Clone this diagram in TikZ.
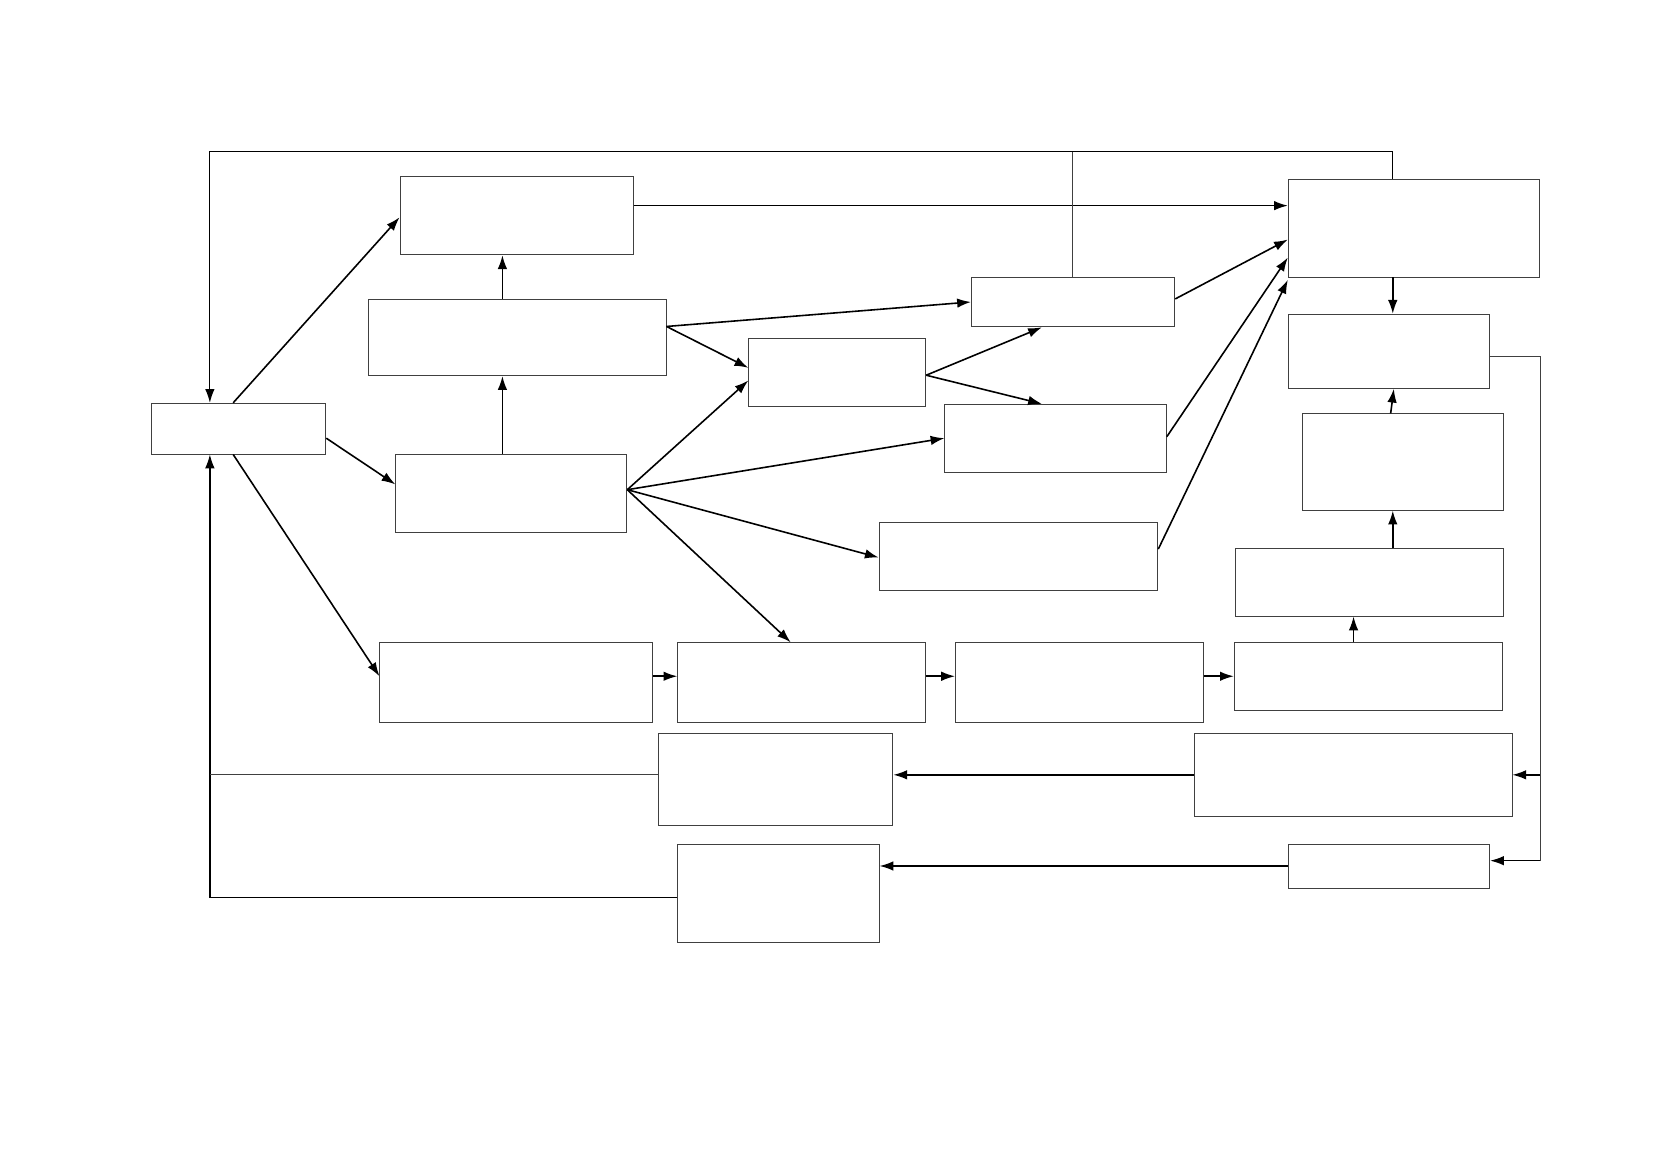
\documentclass[tikz,border=0pt]{standalone}
\usetikzlibrary{calc}
\usetikzlibrary{arrows.meta}

\tikzset{
  box/.style={draw=black!75, line width=0.8pt, inner sep=0pt, anchor=north west},
  link/.style={line width=1.5pt, -{Latex[length=13pt,width=9pt]}},
  frame/.style={draw=black!75, line width=0.9pt},
}

\begin{document}
\begin{tikzpicture}[x=1pt, y=-1pt]
\useasboundingbox (0,0) rectangle (1568,1108.5);

% boxes
\node[box, minimum width=165, minimum height=48] (A) at (142,380) {};
\node[box, minimum width=220, minimum height=74] (B) at (377,166) {};
\node[box, minimum width=281, minimum height=72] (C) at (347,282) {};
\node[box, minimum width=218, minimum height=74] (D) at (373,428) {};
\node[box, minimum width=167, minimum height=64] (E) at (706,319) {};
\node[box, minimum width=192, minimum height=47] (F) at (916,261) {};
\node[box, minimum width=209, minimum height=64] (G) at (891,381) {};
\node[box, minimum width=263, minimum height=65] (H) at (829,492) {};
\node[box, minimum width=237, minimum height=92] (R1) at (1215,169) {};
\node[box, minimum width=190, minimum height=70] (R2) at (1215,296) {};
\node[box, minimum width=190, minimum height=91] (R3) at (1228,390) {};
\node[box, minimum width=253, minimum height=64] (R4) at (1165,517) {};
\node[box, minimum width=257, minimum height=75] (P1) at (358,606) {};
\node[box, minimum width=234, minimum height=75] (P2) at (639,606) {};
\node[box, minimum width=234, minimum height=75] (P3) at (901,606) {};
\node[box, minimum width=253, minimum height=64] (P4) at (1164,606) {};
\node[box, minimum width=221, minimum height=86] (Q1) at (621,692) {};
\node[box, minimum width=300, minimum height=78] (Q2) at (1126,692) {};
\node[box, minimum width=190, minimum height=93] (S1) at (639,796) {};
\node[box, minimum width=190, minimum height=42] (S2) at (1215,796) {};

\coordinate (topbend) at (198,143);
\coordinate (botbend) at (198,847);
\coordinate (rtop) at (1453,336);
\coordinate (rbot) at (1453,812);

% from the left box
\draw[link] ([xshift=78]A.north west) -- ([yshift=-39]B.north west);
\draw[link] ([yshift=-9]A.east) -- ([yshift=-29]D.north west);
\draw[link] ([xshift=78]A.south west) -- ([yshift=-32]P1.north west);
\draw[link] ([xshift=101]D.north west) -- ([xshift=127]C.south west);
\draw[link] ([xshift=127]C.north west) -- ([xshift=97]B.south west);
\draw[link] ([yshift=-28]B.north east) -- ([yshift=-25]R1.north west);

% middle fan
\draw[link] ([yshift=-26]C.north east) -- (F.west);
\draw[link] ([yshift=-26]C.north east) -- ([yshift=-28]E.north west);
\draw[link] ([yshift=-34]D.north east) -- ([yshift=-40]E.north west);
\draw[link] ([yshift=-34]D.north east) -- (G.west);
\draw[link] ([yshift=-34]D.north east) -- ([yshift=-34]H.north west);
\draw[link] ([yshift=-34]D.north east) -- ([xshift=107]P2.north west);
\draw[link] ([yshift=-35]E.north east) -- ([xshift=67]F.south west);
\draw[link] ([yshift=-35]E.north east) -- ([xshift=92]G.north west);
\draw[link] ([yshift=-21]F.north east) -- ([yshift=-57]R1.north west);
\draw[link] ([yshift=-31]G.north east) -- ([yshift=-74]R1.north west);
\draw[link] ([yshift=-26]H.north east) -- ([yshift=-95]R1.north west);

% right column
\draw[link] ([xshift=99]R1.south west) -- ([xshift=99]R2.north west);
\draw[link] ([xshift=84]R3.north west) -- ([xshift=100]R2.south west);
\draw[link] ([xshift=86]R3.south west |- R4.north) -- ([xshift=86]R3.south west);
\draw[link, line width=1pt] ([xshift=113]P4.north west) -- ([xshift=112]R4.south west);

% row of boxes
\draw[link] ([yshift=-32]P1.north east) -- ([yshift=-32]P2.north west);
\draw[link] ([yshift=-32]P2.north east) -- ([yshift=-32]P3.north west);
\draw[link] ([yshift=-32]P3.north east) -- ([yshift=-32]P4.north west);

% return paths
\draw[link] ([yshift=-39]Q2.north west) -- ([yshift=-39]Q1.north east);
\draw[link] ([yshift=-21]S2.north west) -- ([yshift=-21]S1.north east);
\draw[frame] ([yshift=-40]R2.north east) -- (rtop) -- (rbot);
\draw[link] ([yshift=-39]Q2.north east -| rtop) -- ([yshift=-39]Q2.north east);
\draw[link] (rbot) -- ([yshift=-16]S2.north east);

% frame lines to the left box
\draw[frame, line width=1.1pt, draw=black, -{Latex[length=13pt,width=9pt]}] ([xshift=99]R1.north west) |- (topbend) -- ([xshift=56]A.north west);
\draw[frame] ([xshift=96]F.north west) -- ([xshift=96]F.north west |- topbend);
\draw[frame, line width=1.2pt, draw=black, -{Latex[length=13pt,width=9pt]}] ([yshift=-51]S1.north west) -- (botbend) -- ([xshift=56]A.south west);
\draw[frame] ([yshift=-39]Q1.north west) -- ([yshift=-39]Q1.north west -| botbend);
\end{tikzpicture}
\end{document}
